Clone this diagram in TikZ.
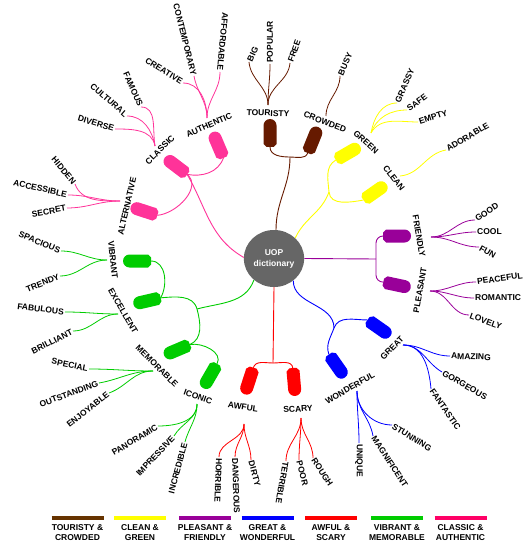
\documentclass[tikz,border=0pt]{standalone}
\usepackage{fontspec}
\setmainfont{Liberation Sans}
\usepackage{tikz}
\usetikzlibrary{positioning,shapes.geometric}
\definecolor{TourBrown}{HTML}{661A00}
\definecolor{TourLegend}{HTML}{663300}
\definecolor{CleanYellow}{HTML}{FFFF00}
\definecolor{PleasPurple}{HTML}{990099}
\definecolor{GreatBlue}{HTML}{0000FF}
\definecolor{AwfulRed}{HTML}{FF0000}
\definecolor{VibGreen}{HTML}{00CC00}
\definecolor{ClassPink}{HTML}{FF3399}
\definecolor{ClassLegend}{HTML}{FF0066}
\definecolor{HubGray}{HTML}{666666}

% pill: name of its cut end, colour, centre, angle (cut end -> round end)
\newcommand{\pill}[4]{%
  \begin{scope}[shift={#3},rotate=#4]
    \fill[#2] (-14,-3.5) -- (-11,-6.5) -- (7.5,-6.5) arc[start angle=-90,end angle=90,radius=6.5] -- (-11,6.5) -- (-14,3.5) -- cycle;
    \coordinate (#1) at (-14,0);
  \end{scope}}

\begin{document}
\begin{tikzpicture}[x=1pt,y=1pt,
    lbl/.style={font=\fontsize{8.5}{10}\selectfont\bfseries, inner sep=1pt},
    twig/.style={line width=0.8pt},
    limb/.style={line width=0.9pt}]
  \useasboundingbox (0,0) rectangle (526,-548);

  \node[ellipse, fill=HubGray, minimum width=60pt, minimum height=57pt, text=white, align=center, lbl, font=\fontsize{8.5}{11}\selectfont\bfseries] (uop) at (274,-258.5) {UOP\\dictionary};

  % touristy & crowded
  \pill{tourP}{TourBrown}{(270,-133)}{90}
  \pill{crowdP}{TourBrown}{(313,-140)}{68}
  \coordinate (tourJ) at (290,-157);
  \draw[limb,TourBrown] (uop.86) to[out=90,in=270] (tourJ);
  \draw[limb,TourBrown] (tourP) to[out=270,in=180] (tourJ);
  \draw[limb,TourBrown] (crowdP) to[out=248,in=0] (tourJ);
  \node[lbl,rotate=-2] (touristy) at (268,-113) {TOURISTY};
  \node[lbl,rotate=-21] (crowded) at (325,-122) {CROWDED};
  \node[lbl,rotate=65,anchor=west] (big) at (249,-62) {BIG};
  \node[lbl,rotate=90,anchor=west] (popular) at (270,-64) {POPULAR};
  \node[lbl,rotate=70,anchor=west] (free) at (290,-63) {FREE};
  \node[lbl,rotate=66,anchor=west] (busy) at (340,-76) {BUSY};
  \coordinate (touristyH) at (268,-105);
  \coordinate (crowdedH) at (326,-116);
  \draw[twig,TourBrown] (touristyH) to[out=90,in=275] (big.west);
  \draw[twig,TourBrown] (touristyH) to[out=90,in=270] (popular.west);
  \draw[twig,TourBrown] (touristyH) to[out=90,in=265] (free.west);
  \draw[twig,TourBrown] (crowdedH) to[out=90,in=270] (busy.west);

  % clean & green
  \pill{greenP}{CleanYellow}{(348,-153)}{30}
  \pill{cleanP}{CleanYellow}{(375,-192)}{35}
  \coordinate (cleanJ) at (329,-192);
  \draw[limb,CleanYellow] (uop.44) to[out=65,in=250] (cleanJ);
  \draw[limb,CleanYellow] (greenP) to[out=210,in=95] (cleanJ) to[out=275,in=190] (cleanP);
  \node[lbl,rotate=-42] (green) at (366,-142) {GREEN};
  \node[lbl,rotate=-52] (clean) at (394,-178) {CLEAN};
  \node[lbl,rotate=66,anchor=west] (grassy) at (397,-103) {GRASSY};
  \node[lbl,rotate=37,anchor=west] (safe) at (407,-110) {SAFE};
  \node[lbl,rotate=18,anchor=west] (empty) at (418,-122) {EMPTY};
  \node[lbl,rotate=31,anchor=west] (adorable) at (446,-150) {ADORABLE};
  \coordinate (greenH) at (371,-133);
  \coordinate (cleanH) at (400,-176);
  \draw[twig,CleanYellow] (greenH) to[out=80,in=180] (grassy.west);
  \draw[twig,CleanYellow] (greenH) to[out=70,in=180] (safe.west);
  \draw[twig,CleanYellow] (greenH) to[out=60,in=180] (empty.west);
  \draw[twig,CleanYellow] (cleanH) to[out=5,in=190] (adorable.west);

  % pleasant & friendly
  \pill{friendP}{PleasPurple}{(397,-236)}{0}
  \pill{pleasP}{PleasPurple}{(397,-285)}{-12}
  \coordinate (pleasJ) at (376,-259);
  \draw[limb,PleasPurple] (uop.east) -- (pleasJ);
  \draw[limb,PleasPurple,rounded corners=7pt] (friendP) -| (pleasJ) |- (pleasP);
  \node[lbl,rotate=-80] (friendly) at (419,-236) {FRIENDLY};
  \node[lbl,rotate=80] (pleasant) at (420,-290) {PLEASANT};
  \node[lbl,rotate=33,anchor=west] (good) at (475,-220) {GOOD};
  \node[lbl,anchor=west] (cool) at (476,-232) {COOL};
  \node[lbl,rotate=-30,anchor=west] (fun) at (479,-247) {FUN};
  \node[lbl,rotate=8,anchor=west] (peaceful) at (476,-282) {PEACEFUL};
  \node[lbl,anchor=west] (romantic) at (474,-298) {ROMANTIC};
  \node[lbl,rotate=-20,anchor=west] (lovely) at (469,-315) {LOVELY};
  \coordinate (friendlyH) at (431,-237);
  \coordinate (pleasantH) at (430,-291);
  \foreach \leaf in {good,cool,fun}
    \draw[twig,PleasPurple] (friendlyH) to[out=0,in=180] (\leaf.west);
  \foreach \leaf in {peaceful,romantic,lovely}
    \draw[twig,PleasPurple] (pleasantH) to[out=0,in=180] (\leaf.west);

  % great & wonderful
  \pill{greatP}{GreatBlue}{(379,-328)}{-35}
  \pill{wonderP}{GreatBlue}{(337,-366)}{-55}
  \coordinate (greatJ) at (334,-328);
  \draw[limb,GreatBlue] (uop.-49) to[out=270,in=90] (greatJ);
  \draw[limb,GreatBlue] (greatP) to[out=180,in=70] (greatJ) to[out=250,in=110] (wonderP);
  \node[lbl,rotate=45] (great) at (392,-348) {GREAT};
  \node[lbl,rotate=30] (wonderful) at (350,-388) {WONDERFUL};
  \node[lbl,rotate=-2,anchor=west] (amazing) at (450,-356) {AMAZING};
  \node[lbl,rotate=-30,anchor=west] (gorgeous) at (442,-372) {GORGEOUS};
  \node[lbl,rotate=-55,anchor=west] (fantastic) at (431,-389) {FANTASTIC};
  \node[lbl,rotate=-32,anchor=west] (stunning) at (392,-425) {STUNNING};
  \node[lbl,rotate=-57,anchor=west] (magnificent) at (373,-436) {MAGNIFICENT};
  \node[lbl,rotate=-90,anchor=west] (unique) at (359,-443) {UNIQUE};
  \coordinate (greatH) at (403,-345);
  \coordinate (wonderfulH) at (357,-391);
  \draw[twig,GreatBlue] (greatH) to[out=0,in=180] (amazing.west);
  \draw[twig,GreatBlue] (greatH) to[out=0,in=150] (gorgeous.west);
  \draw[twig,GreatBlue] (greatH) to[out=0,in=95] (fantastic.west);
  \draw[twig,GreatBlue] (wonderfulH) to[out=270,in=180] (stunning.west);
  \draw[twig,GreatBlue] (wonderfulH) to[out=270,in=100] (magnificent.west);
  \draw[twig,GreatBlue] (wonderfulH) to[out=270,in=90] (unique.west);

  % awful & scary
  \pill{awfulP}{AwfulRed}{(249,-381)}{-108}
  \pill{scaryP}{AwfulRed}{(294,-382)}{-85}
  \coordinate (awfulJ) at (273,-363);
  \draw[limb,AwfulRed] (uop.south) -- (awfulJ);
  \draw[limb,AwfulRed] (awfulJ) to[out=180,in=72] (awfulP);
  \draw[limb,AwfulRed] (awfulJ) to[out=0,in=95] (scaryP);
  \node[lbl,rotate=-8] (awful) at (243,-407) {AWFUL};
  \node[lbl,rotate=4] (scary) at (298,-409) {SCARY};
  \node[lbl,rotate=-92,anchor=west] (horrible) at (219,-457) {HORRIBLE};
  \node[lbl,rotate=-88,anchor=west] (dangerous) at (235,-457) {DANGEROUS};
  \node[lbl,rotate=-75,anchor=west] (dirty) at (251,-460) {DIRTY};
  \node[lbl,rotate=-100,anchor=west] (terrible) at (286,-461) {TERRIBLE};
  \node[lbl,rotate=-76,anchor=west] (poor) at (299,-460) {POOR};
  \node[lbl,rotate=-57,anchor=west] (rough) at (313,-458) {ROUGH};
  \coordinate (awfulH) at (244,-424);
  \coordinate (scaryH) at (301,-418);
  \foreach \leaf in {horrible,dangerous,dirty}
    \draw[twig,AwfulRed] (awfulH) to[out=270,in=90] (\leaf.west);
  \foreach \leaf in {terrible,poor,rough}
    \draw[twig,AwfulRed] (scaryH) to[out=270,in=90] (\leaf.west);

  % vibrant & memorable
  \pill{vibP}{VibGreen}{(137,-261)}{180}
  \pill{excP}{VibGreen}{(147,-301)}{193}
  \pill{memP}{VibGreen}{(177,-350)}{203}
  \pill{iconP}{VibGreen}{(210,-376)}{240}
  \coordinate (vibJ) at (197,-309);
  \draw[limb,VibGreen] (uop.227) to[out=250,in=15] (vibJ);
  \draw[limb,VibGreen] (excP) to[out=5,in=105] (vibJ) to[out=285,in=23] (memP);
  \draw[limb,VibGreen] (excP) to[out=60,in=0] (vibP);
  \draw[limb,VibGreen] (memP) to[out=10,in=60] (iconP);
  \node[lbl,rotate=-84] (vibrant) at (113,-260) {VIBRANT};
  \node[lbl,rotate=-60] (excellent) at (123,-311) {EXCELLENT};
  \node[lbl,rotate=-45] (memorable) at (157,-366) {MEMORABLE};
  \node[lbl,rotate=-20] (iconic) at (198,-397) {ICONIC};
  \node[lbl,rotate=-22,anchor=east] (spacious) at (61,-251) {SPACIOUS};
  \node[lbl,rotate=22,anchor=east] (trendy) at (60,-276) {TRENDY};
  \node[lbl,rotate=-7,anchor=east] (fabulous) at (65,-312) {FABULOUS};
  \node[lbl,rotate=27,anchor=east] (brilliant) at (73,-331) {BRILLIANT};
  \node[lbl,rotate=-12,anchor=east] (special) at (89,-369) {SPECIAL};
  \node[lbl,rotate=20,anchor=east] (outstanding) at (99,-383) {OUTSTANDING};
  \node[lbl,rotate=38,anchor=east] (enjoyable) at (109,-393) {ENJOYABLE};
  \node[lbl,rotate=31,anchor=east] (panoramic) at (158,-426) {PANORAMIC};
  \node[lbl,rotate=47,anchor=east] (impressive) at (174,-436) {IMPRESSIVE};
  \node[lbl,rotate=75,anchor=east] (incredible) at (185,-442) {INCREDIBLE};
  \coordinate (vibrantH) at (107,-260);
  \coordinate (excellentH) at (118,-314);
  \coordinate (memorableH) at (153,-371);
  \coordinate (iconicH) at (197,-404);
  \foreach \leaf in {spacious,trendy}
    \draw[twig,VibGreen] (vibrantH) to[out=180,in=0] (\leaf.east);
  \foreach \leaf in {fabulous,brilliant}
    \draw[twig,VibGreen] (excellentH) to[out=180,in=0] (\leaf.east);
  \draw[twig,VibGreen] (memorableH) to[out=180,in=0] (special.east);
  \draw[twig,VibGreen] (memorableH) to[out=180,in=10] (outstanding.east);
  \draw[twig,VibGreen] (memorableH) to[out=180,in=20] (enjoyable.east);
  \draw[twig,VibGreen] (iconicH) to[out=270,in=0] (panoramic.east);
  \draw[twig,VibGreen] (iconicH) to[out=270,in=60] (impressive.east);
  \draw[twig,VibGreen] (iconicH) to[out=270,in=75] (incredible.east);

  % classic & authentic
  \pill{authP}{ClassPink}{(218,-145)}{113}
  \pill{classP}{ClassPink}{(176,-166)}{143}
  \pill{altP}{ClassPink}{(144,-211)}{162}
  \draw[limb,ClassPink] (uop.178) to[out=150,in=300] (classP);
  \draw[limb,ClassPink] (classP) to[out=-10,in=250] (authP);
  \draw[limb,ClassPink] (classP) to[out=-40,in=5] (altP);
  \node[lbl,rotate=24] (authentic) at (209,-125) {AUTHENTIC};
  \node[lbl,rotate=45] (classic) at (160,-150) {CLASSIC};
  \node[lbl,rotate=77] (alternative) at (127,-206) {ALTERNATIVE};
  \node[lbl,rotate=-32,anchor=east] (creative) at (183,-83) {CREATIVE};
  \node[lbl,rotate=-76,anchor=east] (contemporary) at (194,-76) {CONTEMPORARY};
  \node[lbl,rotate=-95,anchor=east] (affordable) at (220,-72) {AFFORDABLE};
  \node[lbl,rotate=-17,anchor=east] (diverse) at (115,-129) {DIVERSE};
  \node[lbl,rotate=-41,anchor=east] (cultural) at (127,-116) {CULTURAL};
  \node[lbl,rotate=-66,anchor=east] (famous) at (141,-107) {FAMOUS};
  \node[lbl,rotate=-50,anchor=east] (hidden) at (75,-184) {HIDDEN};
  \node[lbl,rotate=-13,anchor=east] (accessible) at (68,-195) {ACCESSIBLE};
  \node[lbl,rotate=10,anchor=east] (secret) at (67,-208) {SECRET};
  \coordinate (authenticH) at (207,-118);
  \coordinate (classicH) at (155,-146);
  \coordinate (alternativeH) at (120,-201);
  \draw[twig,ClassPink] (authenticH) to[out=90,in=0] (creative.east);
  \draw[twig,ClassPink] (authenticH) to[out=90,in=280] (contemporary.east);
  \draw[twig,ClassPink] (authenticH) to[out=90,in=270] (affordable.east);
  \foreach \leaf in {diverse,cultural,famous}
    \draw[twig,ClassPink] (classicH) to[out=100,in=0] (\leaf.east);
  \draw[twig,ClassPink] (alternativeH) to[out=180,in=290] (hidden.east);
  \draw[twig,ClassPink] (alternativeH) to[out=180,in=0] (accessible.east);
  \draw[twig,ClassPink] (alternativeH) to[out=180,in=0] (secret.east);

  % legend
  \foreach \cx/\col/\txt [count=\i] in {
      77.5/TourLegend/{TOURISTY \&\\CROWDED},
      140/CleanYellow/{CLEAN \&\\GREEN},
      205/PleasPurple/{PLEASANT \&\\FRIENDLY},
      267.5/GreatBlue/{GREAT \&\\WONDERFUL},
      331/AwfulRed/{AWFUL \&\\SCARY},
      397/VibGreen/{VIBRANT \&\\MEMORABLE},
      460.5/ClassLegend/{CLASSIC \&\\AUTHENTIC}}{
    \draw[\col, line width=4pt] (\cx-26,-518) -- (\cx+26,-518);
    \node[lbl, align=center, anchor=north] (key\i) at (\cx,-523.5) {\txt};
  }
\end{tikzpicture}
\end{document}
